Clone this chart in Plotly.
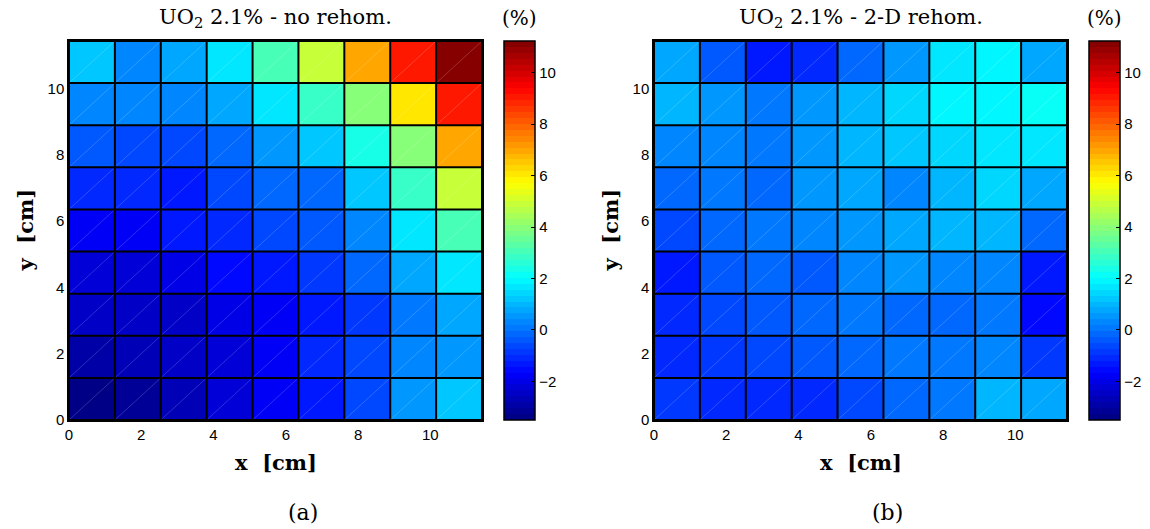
import plotly.graph_objects as go

# Pin-cell grid (9 x 9 cells, pitch in cm)
pitch = 1.27
n_cells = 9
edges = [i * pitch for i in range(n_cells + 1)]

# Relative error (%) per cell, rows listed from bottom (y index 0) to top
no_rehom = [
    [-3.43, -3.15, -2.70, -2.27, -1.80, -1.20, -0.63, 0.47, 1.20],
    [-3.02, -2.80, -2.56, -2.27, -1.80, -1.12, -0.63, 0.25, 0.54],
    [-2.56, -2.50, -2.35, -2.10, -1.70, -1.20, -0.78, 0.10, 0.69],
    [-2.22, -2.22, -1.90, -1.60, -1.27, -0.78, -0.05, 0.69, 1.62],
    [-1.75, -1.80, -1.41, -1.12, -0.63, -0.34, 0.40, 1.62, 3.06],
    [-1.12, -1.12, -1.20, -0.71, -0.27, -0.05, 1.14, 2.80, 4.83],
    [-0.34, -0.63, -0.55, -0.05, 0.47, 1.14, 2.35, 4.09, 6.90],
    [0.40, 0.25, 0.25, 0.69, 1.62, 2.80, 4.09, 5.97, 9.00],
    [1.14, 0.40, 0.69, 1.62, 3.06, 4.83, 6.90, 9.00, 11.20],
]

rehom_2d = [
    [-0.78, -1.05, -1.05, -1.05, -0.71, -0.27, 0.18, 0.90, 0.69],
    [-1.12, -0.78, -0.63, -0.41, -0.27, 0.03, 0.18, 0.40, -0.78],
    [-1.05, -0.63, -0.41, -0.20, 0.18, -0.05, -0.05, 0.18, -1.45],
    [-1.20, -0.48, -0.27, -0.34, 0.33, 0.54, 0.40, 0.33, -1.27],
    [-0.71, -0.27, 0.10, 0.25, 0.54, 0.76, 0.98, 0.90, -0.27],
    [-0.05, 0.18, -0.05, 0.54, 0.69, 0.40, 1.05, 1.35, 0.69],
    [0.25, 0.40, 0.03, 0.47, 0.90, 1.20, 1.48, 1.75, 1.75],
    [0.90, 0.47, 0.18, 0.47, 0.90, 1.42, 1.90, 2.00, 2.05],
    [0.69, -0.48, -1.34, -1.12, -0.20, 0.60, 1.75, 2.00, 0.85],
]

zmin, zmax = -3.50, 11.23
axis_ticks = [0, 2, 4, 6, 8, 10]
cbar_ticks = [-2, 0, 2, 4, 6, 8, 10]

titles = ["UO<sub>2</sub> 2.1% - no rehom.", "UO<sub>2</sub> 2.1% - 2-D rehom."]
panel_tags = ["(a)", "(b)"]


def jet_scale(levels=64):
    """Discrete MATLAB-style jet colour scale."""
    def clip(v):
        return max(0.0, min(1.0, v))
    scale = []
    for i in range(levels):
        t = (i + 0.5) / levels
        r = clip(1.5 - abs(4 * t - 3))
        g = clip(1.5 - abs(4 * t - 2))
        b = clip(1.5 - abs(4 * t - 1))
        c = f"rgb({round(r * 255)},{round(g * 255)},{round(b * 255)})"
        scale.append([i / levels, c])
        scale.append([(i + 1) / levels, c])
    return scale


W, H = 1150, 529
SERIF = "DejaVu Serif"
SANS = "Liberation Sans"

# pixel layout of the two panels: (plot left, plot right, colorbar left)
panels = [(69, 482, 504), (654, 1067, 1089)]
top_px, bot_px = 41, 420
cbar_w = 31


def fx(px):
    return px / W


def fy(py):
    return 1 - py / H


fig = go.Figure()
jet = jet_scale()

# grid line and cell diagonal paths built from the cell edges
grid_x, grid_y = [], []
for e in edges:
    grid_x += [e, e, None, edges[0], edges[-1], None]
    grid_y += [edges[0], edges[-1], None, e, e, None]
diag_x, diag_y = [], []
for j in range(n_cells):
    for i in range(n_cells):
        diag_x += [edges[i], edges[i + 1], None]
        diag_y += [edges[j], edges[j + 1], None]

for k, (z, (pl, pr, cl)) in enumerate(zip([no_rehom, rehom_2d], panels)):
    xa = "x" if k == 0 else "x2"
    ya = "y" if k == 0 else "y2"
    fig.add_trace(go.Heatmap(
        z=z, x=edges, y=edges, colorscale=jet, zmin=zmin, zmax=zmax,
        xaxis=xa, yaxis=ya, hoverinfo="skip",
        colorbar=dict(
            x=fx(cl), xanchor="left", xpad=0,
            y=fy(bot_px), yanchor="bottom", ypad=0,
            len=(bot_px - top_px) / H, lenmode="fraction",
            thickness=cbar_w, thicknessmode="pixels",
            outlinecolor="black", outlinewidth=1.5,
            tickvals=cbar_ticks, ticks="inside", ticklen=4, tickcolor="black",
            ticklabelposition="outside",
            tickfont=dict(family=SANS, size=15, color="black"),
        ),
    ))
    fig.add_trace(go.Scatter(
        x=diag_x, y=diag_y, mode="lines", xaxis=xa, yaxis=ya,
        line=dict(color="rgba(255,255,255,0.3)", width=0.6),
        hoverinfo="skip", showlegend=False,
    ))
    fig.add_trace(go.Scatter(
        x=grid_x, y=grid_y, mode="lines", xaxis=xa, yaxis=ya,
        line=dict(color="black", width=2),
        hoverinfo="skip", showlegend=False,
    ))

    # matching tick marks on the left edge of the colour bar
    for v in cbar_ticks:
        yv = fy(bot_px) + (v - zmin) / (zmax - zmin) * (bot_px - top_px) / H
        fig.add_shape(type="line", xref="paper", yref="paper",
                      x0=fx(cl), x1=fx(cl + 4), y0=yv, y1=yv,
                      line=dict(color="black", width=1))

axis_common = dict(
    range=[edges[0], edges[-1]], tickvals=axis_ticks, automargin=False,
    showgrid=False, zeroline=False, showline=True, mirror=True,
    linecolor="black", linewidth=1.5, ticks="",
    tickfont=dict(family=SANS, size=15, color="black"),
)
for k, (pl, pr, cl) in enumerate(panels):
    sfx = "" if k == 0 else "2"
    fig.update_layout({
        f"xaxis{sfx}": dict(axis_common, domain=[fx(pl), fx(pr)], anchor=f"y{sfx}"),
        f"yaxis{sfx}": dict(axis_common, domain=[fy(bot_px), fy(top_px)], anchor=f"x{sfx}"),
    })
    center = (pl + pr) / 2
    # panel title
    fig.add_annotation(
        x=fx(center), y=fy(18), xref="paper", yref="paper",
        text=titles[k], showarrow=False, xanchor="center", yanchor="middle",
        font=dict(family=SERIF, size=21, color="black"),
    )
    # colour bar unit
    fig.add_annotation(
        x=fx(cl + cbar_w / 2), y=fy(18), xref="paper", yref="paper",
        text="(%)", showarrow=False, xanchor="center", yanchor="middle",
        font=dict(family=SERIF, size=20, color="black"),
    )
    # axis titles
    fig.add_annotation(
        x=fx(center), y=fy(462), xref="paper", yref="paper",
        text="<b>x  [cm]</b>", showarrow=False, xanchor="center", yanchor="middle",
        font=dict(family=SERIF, size=21, color="black"),
    )
    fig.add_annotation(
        x=fx(pl - 44), y=fy((top_px + bot_px) / 2), xref="paper", yref="paper",
        text="<b>y  [cm]</b>", showarrow=False, textangle=-90,
        xanchor="center", yanchor="middle",
        font=dict(family=SERIF, size=21, color="black"),
    )
    # panel tag
    fig.add_annotation(
        x=fx(center + 27), y=fy(512), xref="paper", yref="paper",
        text=panel_tags[k], showarrow=False, xanchor="center", yanchor="middle",
        font=dict(family=SERIF, size=22, color="black"),
    )

fig.update_layout(
    width=W, height=H,
    margin=dict(l=0, r=0, t=0, b=0, pad=0, autoexpand=False),
    paper_bgcolor="white", plot_bgcolor="white", showlegend=False,
)

fig.write_html("out.html")
